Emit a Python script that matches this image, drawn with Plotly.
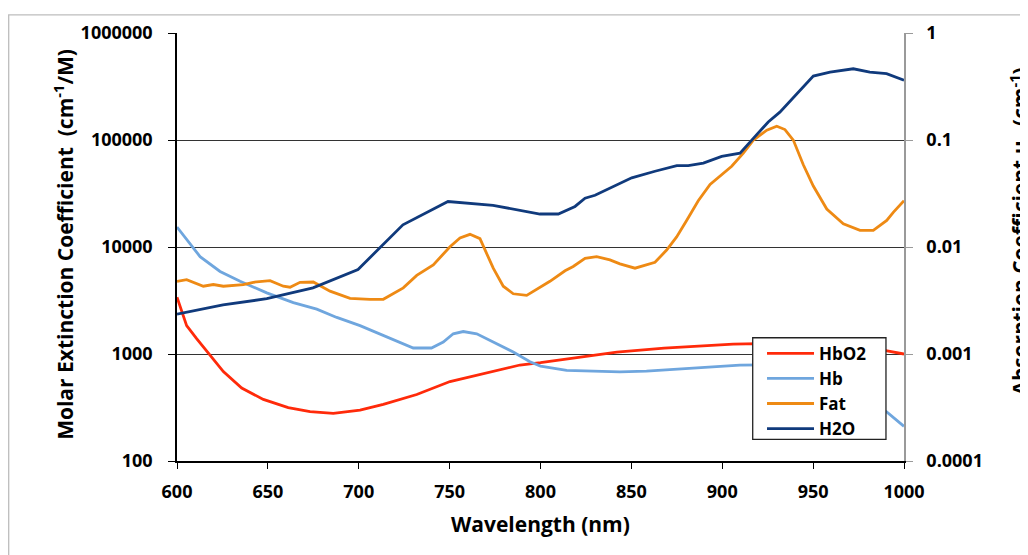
import plotly.graph_objects as go

# ---------------- data ----------------
hbo2_wl = [600, 602.6, 605.3, 610.8, 618.2, 625.5, 635.6, 647.5, 661.2, 673.2, 686, 700.7,
           713.5, 731.9, 750.2, 772.2, 788.7, 800, 818, 842, 868, 892, 906, 920, 935,
           950, 965, 980, 990, 1000]
hbo2_val = [3400, 2530, 1840, 1390, 975, 684, 481, 376, 315, 289, 279, 299,
            338, 418, 553, 684, 789, 830, 919, 1043, 1136, 1202, 1236, 1250, 1245,
            1220, 1180, 1120, 1075, 1000]

hb_wl = [600, 604.4, 612.7, 623.7, 634.7, 649.4, 664, 676.9, 687.9, 700.7, 715.4, 730,
         740, 746.5, 752, 757.5, 764.9, 774, 785, 794.2, 800, 814.4, 843.7, 858.3, 873,
         891.3, 909.7, 925, 940, 955, 970, 982, 990.5, 1000]
hb_val = [15350, 12410, 8125, 5910, 4780, 3730, 3020, 2624, 2197, 1842, 1437, 1138,
          1138, 1292, 1545, 1622, 1545, 1292, 1045, 846, 770, 703, 682, 693, 718,
          759, 787, 790, 720, 600, 450, 340, 287, 211]

fat_wl = [600, 605.3, 614.5, 620, 625.5, 636.5, 642, 651.2, 658.5, 662.2, 667.7, 675,
          684.2, 695.2, 706.2, 713.5, 724.5, 731.9, 741, 750.2, 755.7, 761.2, 766.7,
          774, 779.5, 785, 792.4, 797.9, 805.2, 813.5, 818, 824.5, 830.9, 838.2, 843.7,
          852, 863, 869.4, 874.9, 880.4, 886.8, 893.3, 899.7, 905.2, 911.6, 917.1,
          924.5, 930, 934.5, 939.1, 944.6, 950.1, 957.5, 966.6, 975.8, 983.1, 990.5,
          994.1, 1000]
fat_val = [4780, 4955, 4300, 4460, 4300, 4460, 4680, 4850, 4300, 4210, 4680, 4710,
           3870, 3313, 3245, 3245, 4150, 5430, 6810, 10040, 12150, 13140, 11970,
           6340, 4300, 3655, 3530, 4010, 4780, 6000, 6570, 7840, 8125, 7575, 6960,
           6340, 7200, 9360, 12410, 17690, 27030, 38440, 47500, 56780, 75300, 99800,
           123400, 134300, 125200, 99800, 58730, 37150, 22620, 16460, 14310, 14310, 17690,
           21090, 27030]

h2o_wl = [600, 625.3, 649.4, 674.8, 699.6, 724.3, 749.1, 773.9, 799.7, 809.8, 819,
          824.5, 830, 839.2, 850.2, 863, 875, 881.3, 889.6, 899.7, 909.8, 917.1, 925.3,
          931.7, 940.9, 950.1, 959.3, 972.1, 981.2, 990.4, 1000]
h2o_val = [2360, 2876, 3287, 4150, 6166, 16100, 26600, 24480, 20340, 20340, 23940,
           28570, 30430, 35840, 44280, 51050, 57500, 57500, 60870, 70200, 75300, 103500,
           147400, 182200, 268600, 396000, 430900, 463000, 430900, 416600, 361500]

series_names = ["HbO2", "Hb", "Fat", "H2O"]
series_colors = ["#FF2A0A", "#6FA6DE", "#EE8A14", "#103A7C"]

x_ticks = [600, 650, 700, 750, 800, 850, 900, 950, 1000]
left_ticks = [100, 1000, 10000, 100000, 1000000]
left_tick_text = ["100", "1000", "10000", "100000", "1000000"]
right_ticks = [0.0001, 0.001, 0.01, 0.1, 1]
right_tick_text = ["0.0001", "0.001", "0.01", "0.1", "1"]

FONT = "Open Sans"
tick_font = dict(family=FONT, size=18, color="black", weight="bold")

fig = go.Figure()
for name, color, wl, val in zip(series_names, series_colors,
                                [hbo2_wl, hb_wl, fat_wl, h2o_wl],
                                [hbo2_val, hb_val, fat_val, h2o_val]):
    fig.add_trace(go.Scatter(x=wl, y=val, name=name, mode="lines",
                             line=dict(color=color, width=2.8)))

# dummy trace to create the secondary axis
fig.add_trace(go.Scatter(x=[None], y=[None], yaxis="y2", showlegend=False,
                         hoverinfo="skip"))

# page body has an 8px margin: figure is sized so it fills the window
fig.update_layout(
    width=1020, height=547,
    margin=dict(l=169, r=124, t=19, b=94),
    paper_bgcolor="white", plot_bgcolor="white",
    font=dict(family=FONT, color="black"),
    xaxis=dict(range=[600, 1000], tickvals=x_ticks, showgrid=False, zeroline=False,
               showline=True, linecolor="black", linewidth=1.5,
               ticks="outside", ticklen=6, tickcolor="black", tickwidth=1.3,
               tickfont=tick_font, ticklabelstandoff=8),
    yaxis=dict(type="log", range=[2, 6], tickvals=left_ticks, ticktext=left_tick_text,
               showgrid=True, gridcolor="#333333", gridwidth=1.3, zeroline=False,
               showline=True, linecolor="black", linewidth=1.5,
               ticks="outside", ticklen=7, tickcolor="black", tickwidth=1.3,
               tickfont=tick_font, ticklabelstandoff=12),
    yaxis2=dict(type="log", range=[-4, 0], overlaying="y", side="right",
                tickvals=right_ticks, ticktext=right_tick_text,
                showgrid=False, zeroline=False, showline=True, linecolor="#9a9a9a",
                linewidth=1.5, ticks="outside", ticklen=7, tickcolor="#9a9a9a",
                tickwidth=1.3, tickfont=tick_font, ticklabelstandoff=10),
    legend=dict(x=0.8047, y=0.2926, xanchor="left", yanchor="top",
                bgcolor="rgba(0,0,0,0)", borderwidth=0,
                font=dict(family=FONT, size=17, color="black", weight="bold"),
                tracegroupgap=0, itemwidth=47),
    showlegend=True,
)

# legend frame (white box drawn over the curves, beneath the legend entries)
fig.add_shape(type="rect", xref="paper", yref="paper",
              x0=0.7919, x1=0.9752, y0=0.0507, y1=0.288,
              line=dict(color="#222222", width=1.3), fillcolor="white", layer="above")

title_font = dict(family=FONT, size=21, color="black", weight="bold")
fig.add_annotation(text="Wavelength (nm)", xref="paper", yref="paper",
                   x=0.5, y=-0.148, xanchor="center", yanchor="middle",
                   showarrow=False, font=title_font)
fig.add_annotation(text="Molar Extinction Coefficient  (cm<sup>-1</sup>/M)",
                   xref="paper", yref="paper", x=-0.157, y=0.507, textangle=-90,
                   xanchor="center", yanchor="middle", showarrow=False, font=title_font)
fig.add_annotation(text="Absorption Coefficient \u03bc<sub>a</sub> (cm<sup>-1</sup>)",
                   xref="paper", yref="paper", x=1.159, y=0.535, textangle=-90,
                   xanchor="center", yanchor="middle", showarrow=False, font=title_font)

# outer chart border (along the figure's top and left edges)
fig.add_shape(type="rect", xref="paper", yref="paper",
              x0=-0.2315, x1=1.2, y0=-0.25, y1=1.0425,
              line=dict(color="#bdbdbd", width=1.3), layer="below")

fig.write_html("out.html")
